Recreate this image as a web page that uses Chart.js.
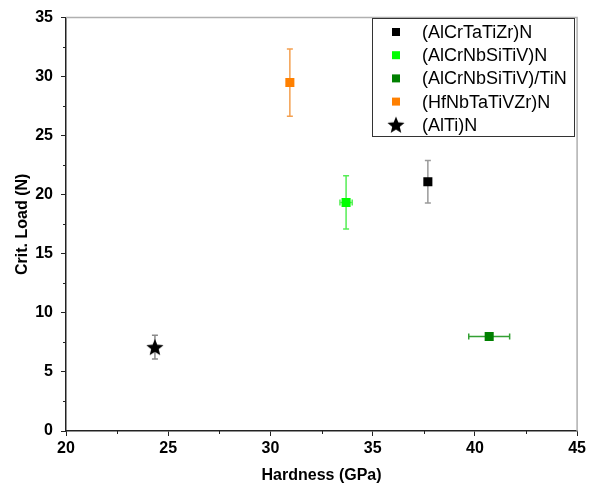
<!DOCTYPE html>
<html>
<head>
<meta charset="utf-8">
<script src="https://cdn.jsdelivr.net/npm/chart.js@4.4.1/dist/chart.umd.min.js"></script>
<style>
  html, body { margin: 0; padding: 0; background: #fff; }
  #wrap { width: 589px; height: 493px; }
</style>
</head>
<body>
<div id="wrap"><canvas id="c" width="589" height="493"></canvas></div>
<script>
// ---- data ----
const seriesLabels = ['(AlCrTaTiZr)N', '(AlCrNbSiTiV)N', '(AlCrNbSiTiV)/TiN', '(HfNbTaTiVZr)N', '(AlTi)N'];
const hardness     = [37.7, 33.7, 40.7, 30.95, 24.35];   // GPa
const critLoad     = [21.1, 19.35, 8.0, 29.5, 7.1];      // N
const hardnessErr  = [0, 0.3, 1.0, 0, 0];
const critLoadErr  = [1.8, 2.25, 0, 2.85, 1.0];
const xTicks = [20, 25, 30, 35, 40, 45];
const yTicks = [0, 5, 10, 15, 20, 25, 30, 35];

// ---- styles ----
const markerColors = ['#000000', '#00ff00', '#008000', '#ff8000', '#000000'];
const errColors    = ['#9a9a9a', '#55ee55', '#33a033', '#f4a050', '#8a8a8a'];
const FONT = '"Liberation Sans", Arial, sans-serif';

function makeStar(size, color) {
  const c = document.createElement('canvas');
  c.width = size; c.height = size;
  const g = c.getContext('2d');
  const cx = size / 2, cy = size / 2 + size * 0.04;
  const R = size / 2, r = R * 0.44;
  g.beginPath();
  for (let k = 0; k < 10; k++) {
    const ang = -Math.PI / 2 + k * Math.PI / 5;
    const rad = k % 2 === 0 ? R : r;
    const px = cx + rad * Math.cos(ang), py = cy + rad * Math.sin(ang);
    if (k === 0) g.moveTo(px, py); else g.lineTo(px, py);
  }
  g.closePath();
  g.fillStyle = color;
  g.fill();
  return c;
}
const starImg = makeStar(18, '#000');
const starLegend = makeStar(18, '#000');

const datasets = seriesLabels.map((lab, i) => ({
  label: lab,
  data: [{ x: hardness[i], y: critLoad[i] }],
  pointStyle: i === 4 ? starImg : 'rect',
  pointRadius: 6.4,
  pointHoverRadius: 6.4,
  backgroundColor: markerColors[i],
  borderColor: markerColors[i],
  borderWidth: 0,
  showLine: false
}));

const errorBars = {
  id: 'errorBars',
  beforeDatasetsDraw(chart) {
    const { ctx, scales: { x, y } } = chart;
    ctx.save();
    ctx.lineWidth = 1.5;
    seriesLabels.forEach((_, i) => {
      const cx = x.getPixelForValue(hardness[i]);
      const cy = y.getPixelForValue(critLoad[i]);
      ctx.strokeStyle = errColors[i];
      if (critLoadErr[i] > 0) {
        const t = y.getPixelForValue(critLoad[i] + critLoadErr[i]);
        const b = y.getPixelForValue(critLoad[i] - critLoadErr[i]);
        ctx.beginPath();
        ctx.moveTo(cx, t); ctx.lineTo(cx, b);
        ctx.moveTo(cx - 3, t); ctx.lineTo(cx + 3, t);
        ctx.moveTo(cx - 3, b); ctx.lineTo(cx + 3, b);
        ctx.stroke();
      }
      if (hardnessErr[i] > 0) {
        const l = x.getPixelForValue(hardness[i] - hardnessErr[i]);
        const r = x.getPixelForValue(hardness[i] + hardnessErr[i]);
        ctx.beginPath();
        ctx.moveTo(l, cy); ctx.lineTo(r, cy);
        ctx.moveTo(l, cy - 3); ctx.lineTo(l, cy + 3);
        ctx.moveTo(r, cy - 3); ctx.lineTo(r, cy + 3);
        ctx.stroke();
      }
    });
    ctx.restore();
  }
};

const frameAndMinor = {
  id: 'frameAndMinor',
  afterDraw(chart) {
    const { ctx, chartArea: a, scales: { x, y } } = chart;
    ctx.save();
    ctx.strokeStyle = '#b0b0b0';
    ctx.lineWidth = 1.5;
    ctx.beginPath();
    ctx.moveTo(a.left, a.top); ctx.lineTo(a.right, a.top); ctx.lineTo(a.right, a.bottom);
    ctx.stroke();
    ctx.strokeStyle = '#222';
    ctx.lineWidth = 1;
    ctx.beginPath();
    for (let k = 0; k < xTicks.length - 1; k++) {
      const px = Math.round(x.getPixelForValue((xTicks[k] + xTicks[k + 1]) / 2)) + 0.5;
      ctx.moveTo(px, a.bottom); ctx.lineTo(px, a.bottom + 3);
    }
    for (let k = 0; k < yTicks.length - 1; k++) {
      const py = Math.round(y.getPixelForValue((yTicks[k] + yTicks[k + 1]) / 2)) + 0.5;
      ctx.moveTo(a.left, py); ctx.lineTo(a.left - 3, py);
    }
    ctx.stroke();
    ctx.restore();
  }
};

const boxLegend = {
  id: 'boxLegend',
  afterDraw(chart) {
    const { ctx } = chart;
    const bx = 372.5, by = 18.5, bw = 202, bh = 118;
    ctx.save();
    ctx.fillStyle = '#fff';
    ctx.fillRect(bx, by, bw, bh);
    ctx.strokeStyle = '#333';
    ctx.lineWidth = 1;
    ctx.strokeRect(bx, by, bw, bh);
    ctx.font = '18px ' + FONT;
    ctx.textBaseline = 'middle';
    ctx.fillStyle = '#000';
    seriesLabels.forEach((lab, i) => {
      const yy = 32 + i * 23.2;
      if (i === 4) {
        ctx.drawImage(starLegend, 396 - 9, yy - 9);
      } else {
        ctx.fillStyle = markerColors[i];
        ctx.fillRect(392, yy - 4, 8, 8);
      }
      ctx.fillStyle = '#000';
      ctx.fillText(lab, 422, yy + 1);
    });
    ctx.restore();
  }
};

new Chart(document.getElementById('c'), {
  type: 'scatter',
  data: { datasets },
  options: {
    responsive: false,
    animation: false,
    events: [],
    layout: { padding: { left: 0, right: 10, top: 16, bottom: 0 } },
    plugins: { legend: { display: false }, tooltip: { enabled: false } },
    scales: {
      x: {
        type: 'linear',
        min: xTicks[0], max: xTicks[xTicks.length - 1],
        afterBuildTicks(s) { s.ticks = xTicks.map(v => ({ value: v })); },
        afterFit(s) { s.height = 62; },
        grid: { drawOnChartArea: false, drawTicks: true, tickLength: 5, tickColor: '#222' },
        border: { display: true, color: '#222', width: 1.5 },
        ticks: { color: '#000', padding: 3, font: { family: FONT, size: 16, weight: 'bold' } },
        title: { display: true, text: 'Hardness (GPa)', color: '#000',
                 font: { family: FONT, size: 16, weight: 'bold' }, padding: { top: 0, bottom: 8 } }
      },
      y: {
        type: 'linear',
        min: yTicks[0], max: yTicks[yTicks.length - 1],
        afterBuildTicks(s) { s.ticks = yTicks.map(v => ({ value: v })); },
        afterFit(s) { s.width = 66; },
        grid: { drawOnChartArea: false, drawTicks: true, tickLength: 5, tickColor: '#222' },
        border: { display: true, color: '#222', width: 1.5 },
        ticks: { color: '#000', padding: 8, font: { family: FONT, size: 16, weight: 'bold' } },
        title: { display: true, text: 'Crit. Load (N)', color: '#000',
                 font: { family: FONT, size: 16, weight: 'bold' }, padding: { top: 13, bottom: 0 } }
      }
    }
  },
  plugins: [errorBars, frameAndMinor, boxLegend]
});
</script>
</body>
</html>
